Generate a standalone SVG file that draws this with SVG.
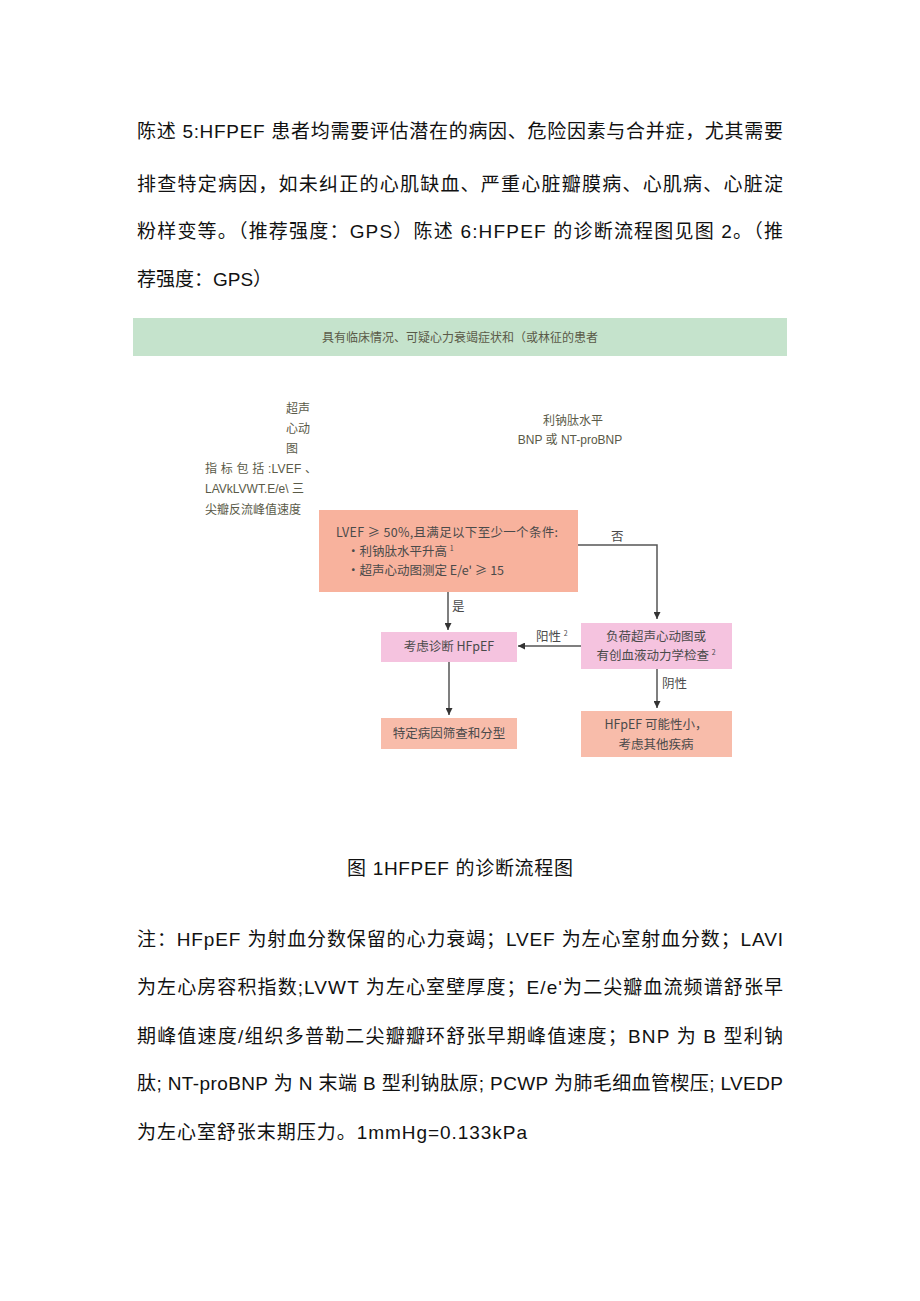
<svg xmlns="http://www.w3.org/2000/svg" width="920" height="1301" viewBox="0 0 920 1301">
<style>
.p{font-family:"Liberation Sans","Noto Sans CJK SC",sans-serif;font-size:19px;fill:#111}
.f{font-family:"Liberation Sans","Noto Sans CJK SC",sans-serif;font-size:12px;fill:#5a5a48}
.b{font-family:"Noto Sans CJK SC","Liberation Sans",sans-serif;font-size:12.5px;fill:#4a4a4a}
.cap{font-family:"Liberation Sans","Noto Sans CJK SC",sans-serif;font-size:19px;fill:#111}
.ln{stroke:#555;stroke-width:1.5;fill:none}
</style>
<defs>
<marker id="ah" viewBox="0 0 10 10" refX="10" refY="5" markerWidth="7" markerHeight="7" markerUnits="userSpaceOnUse" orient="auto">
<path d="M0,0 L10,5 L0,10 z" fill="#333"/>
</marker>
</defs>
<rect width="920" height="1301" fill="#fff"/>
<g id="para">
<text class="p" x="137" y="138" textLength="646" lengthAdjust="spacing">陈述 5:HFPEF 患者均需要评估潜在的病因、危险因素与合并症，尤其需要</text>
<text class="p" x="137" y="191" textLength="646" lengthAdjust="spacing">排查特定病因，如未纠正的心肌缺血、严重心脏瓣膜病、心肌病、心脏淀</text>
<text class="p" x="137" y="238" textLength="646" lengthAdjust="spacing">粉样变等。（推荐强度：GPS）陈述 6:HFPEF 的诊断流程图见图 2。（推</text>
<text class="p" x="137" y="286">荐强度：GPS）</text>
</g>
<g id="banner">
<rect x="133" y="318" width="654" height="38" fill="#c5e3cc"/>
<text class="f" x="460" y="342" text-anchor="middle" fill="#6e6e50">具有临床情况、可疑心力衰竭症状和（或林征的患者</text>
</g>
<g id="echo-label">
<text class="f" x="286" y="413">超声</text>
<text class="f" x="286" y="433">心动</text>
<text class="f" x="286" y="453">图</text>
<text class="f" x="205" y="473" textLength="112" lengthAdjust="spacing">指 标 包 括 :LVEF 、</text>
<text class="f" x="205" y="493">LAVkLVWT.E/e\  三</text>
<text class="f" x="205" y="514">尖瓣反流峰值速度</text>
</g>
<g id="bnp-label">
<text class="f" x="573" y="425" text-anchor="middle">利钠肽水平</text>
<text class="f" x="570" y="444" text-anchor="middle">BNP 或  NT-proBNP</text>
</g>
<g id="n-criteria">
<rect x="319" y="510" width="259" height="82" fill="#f8b29d"/>
<text class="b" x="336" y="537" textLength="222" lengthAdjust="spacing">LVEF ≥ 50%,且满足以下至少一个条件:</text>
<text class="b" x="347" y="556">・利钠肽水平升高 <tspan font-size="7" dy="-5">1</tspan></text>
<text class="b" x="347" y="575">・超声心动图测定 E/e' ≥ 15</text>
</g>
<g id="n-hfpef">
<rect x="381" y="632" width="136" height="30" fill="#f5c3df"/>
<text class="b" x="449" y="651" text-anchor="middle">考虑诊断 HFpEF</text>
</g>
<g id="n-stress">
<rect x="581" y="623" width="151" height="46" fill="#f5c3df"/>
<text class="b" x="656" y="641" text-anchor="middle">负荷超声心动图或</text>
<text class="b" x="656" y="660" text-anchor="middle">有创血液动力学检查 <tspan font-size="7" dy="-5">2</tspan></text>
</g>
<g id="n-etiology">
<rect x="381" y="718" width="136" height="31" fill="#f8bcaa"/>
<text class="b" x="449" y="738" text-anchor="middle">特定病因筛查和分型</text>
</g>
<g id="n-unlikely">
<rect x="581" y="711" width="151" height="46" fill="#f8bcaa"/>
<text class="b" x="656" y="729" text-anchor="middle">HFpEF 可能性小，</text>
<text class="b" x="656" y="749" text-anchor="middle">考虑其他疾病</text>
</g>
<g id="connectors">
<path class="ln" d="M578,545 H657 V619" marker-end="url(#ah)"/>
<text class="b" x="611" y="541">否</text>
<path class="ln" d="M448,592 V630" marker-end="url(#ah)"/>
<text class="b" x="452" y="611">是</text>
<path class="ln" d="M581,646 H518" marker-end="url(#ah)"/>
<text class="b" x="536" y="641">阳性 <tspan font-size="7" dy="-5">2</tspan></text>
<path class="ln" d="M449,662 V715" marker-end="url(#ah)"/>
<path class="ln" d="M657,669 V708" marker-end="url(#ah)"/>
<text class="b" x="662" y="688">阴性</text>
</g>
<g id="caption">
<text class="cap" x="347" y="875" textLength="226" lengthAdjust="spacing">图 1HFPEF 的诊断流程图</text>
</g>
<g id="notes">
<text class="p" x="137" y="946" textLength="646" lengthAdjust="spacing">注：HFpEF 为射血分数保留的心力衰竭；LVEF 为左心室射血分数；LAVI</text>
<text class="p" x="137" y="994" textLength="646" lengthAdjust="spacing">为左心房容积指数;LVWT 为左心室壁厚度；E/e'为二尖瓣血流频谱舒张早</text>
<text class="p" x="137" y="1043" textLength="646" lengthAdjust="spacing">期峰值速度/组织多普勒二尖瓣瓣环舒张早期峰值速度；BNP 为 B 型利钠</text>
<text class="p" x="137" y="1090" textLength="646" lengthAdjust="spacing">肽; NT-proBNP 为 N 末端 B 型利钠肽原; PCWP 为肺毛细血管楔压; LVEDP</text>
<text class="p" x="137" y="1139" textLength="390" lengthAdjust="spacing">为左心室舒张末期压力。1mmHg=0.133kPa</text>
</g>
</svg>
